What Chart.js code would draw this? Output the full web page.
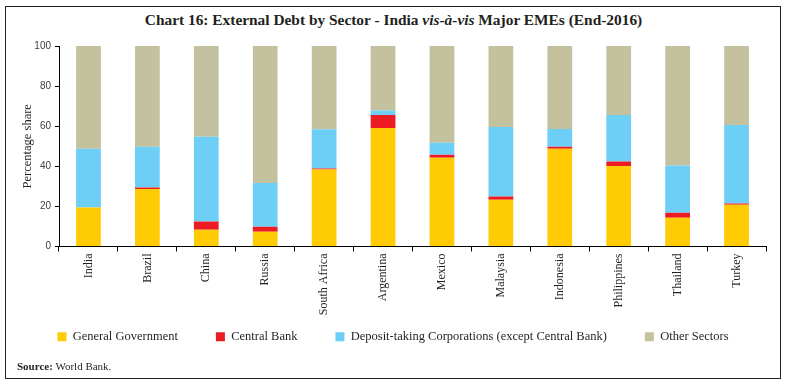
<!DOCTYPE html>
<html>
<head>
<meta charset="utf-8">
<script src="https://cdn.jsdelivr.net/npm/chart.js@4"></script>
<style>
  html, body { margin: 0; padding: 0; background: #fff; }
  body { width: 787px; height: 385px; position: relative; overflow: hidden; }
  #frame { position: absolute; left: 5px; top: 6px; width: 774px; height: 371px; border: 1.5px solid #222; }
  #title { position: absolute; left: 0; width: 787px; top: 11px; text-align: center;
           font-family: "Liberation Serif", serif; font-weight: bold; font-size: 15.4px; color: #231f20; }
  #source { position: absolute; left: 17px; top: 360px; font-family: "Liberation Serif", serif; font-size: 11px; color: #231f20; }
  #wrap { position: absolute; left: 0; top: 0; width: 787px; height: 385px; }
</style>
</head>
<body>
<div id="frame"></div>
<div id="title">Chart 16: External Debt by Sector - India <i>vis-à-vis</i> Major EMEs (End-2016)</div>
<div id="wrap"><canvas id="c"></canvas></div>
<div id="source"><b>Source:</b> World Bank.</div>
<script>
const categories = ["India","Brazil","China","Russia","South Africa","Argentina","Mexico","Malaysia","Indonesia","Philippines","Thailand","Turkey"];
const generalGovernment = [19.4, 28.7, 8.3, 7.3, 38.4, 59.1, 44.3, 23.3, 48.7, 40.2, 14.3, 20.8];
const centralBank       = [0.0, 0.7, 4.2, 2.5, 0.5, 6.5, 1.4, 1.7, 1.0, 2.2, 2.5, 0.7];
const depositTaking     = [29.3, 20.3, 42.3, 21.9, 19.6, 2.2, 6.0, 34.6, 8.9, 23.2, 23.6, 39.1];
const otherSectors      = [51.3, 50.3, 45.2, 68.3, 41.5, 32.2, 48.3, 40.4, 41.4, 34.4, 59.6, 39.4];
const yTicks = [0, 20, 40, 60, 80, 100];

const seriesNames = ["General Government", "Central Bank", "Deposit-taking Corporations (except Central Bank)", "Other Sectors"];
const seriesColors = ["#FFCB05", "#ED1C24", "#6DCFF6", "#C4C29E"];
const seriesValues = [generalGovernment, centralBank, depositTaking, otherSectors];

// move the legend box up into the space beside the rotated x labels, and nudge it right
const shiftLegend = {
  id: 'shiftLegend',
  afterLayout(chart) {
    const dx = 10, dy = -26;
    const lg = chart.legend;
    lg.left += dx; lg.right += dx;
    lg.top += dy; lg.bottom += dy;
  }
};

new Chart(document.getElementById('c'), {
  type: 'bar',
  data: {
    labels: categories,
    datasets: seriesNames.map((n, i) => ({
      label: n, data: seriesValues[i], backgroundColor: seriesColors[i],
      borderWidth: 0, barPercentage: 0.42, categoryPercentage: 1.0
    }))
  },
  options: {
    responsive: true, maintainAspectRatio: false, animation: false,
    layout: { padding: { top: 46, left: 0, right: 21, bottom: 6 } },
    plugins: {
      tooltip: { enabled: false },
      legend: {
        position: 'bottom',
        labels: {
          boxWidth: 9, boxHeight: 9, padding: 38, color: '#231f20',
          font: { family: 'Liberation Serif', size: 12.5 }
        }
      }
    },
    scales: {
      x: {
        stacked: true,
        afterFit: s => { s.height = 72; },
        grid: { display: true, drawOnChartArea: false, drawTicks: true, tickLength: 5, color: '#000', offset: true },
        border: { display: true, color: '#000', width: 1 },
        ticks: { minRotation: 90, maxRotation: 90, autoSkip: false, padding: 2, color: '#231f20',
                 font: { family: 'Liberation Serif', size: 12 } }
      },
      y: {
        stacked: true, min: 0, max: 100,
        afterFit: s => { s.width = 59; },
        afterBuildTicks: s => { s.ticks = yTicks.map(v => ({ value: v })); },
        grid: { display: true, drawOnChartArea: false, drawTicks: true, tickLength: 4, color: '#000' },
        border: { display: true, color: '#000', width: 1 },
        ticks: { padding: 4, color: '#404040', font: { family: 'Liberation Sans', size: 10 } },
        title: { display: true, text: 'Percentage share', color: '#231f20', padding: { top: 20, bottom: 0 },
                 font: { family: 'Liberation Serif', size: 12.5 } }
      }
    }
  },
  plugins: [shiftLegend]
});
</script>
</body>
</html>
